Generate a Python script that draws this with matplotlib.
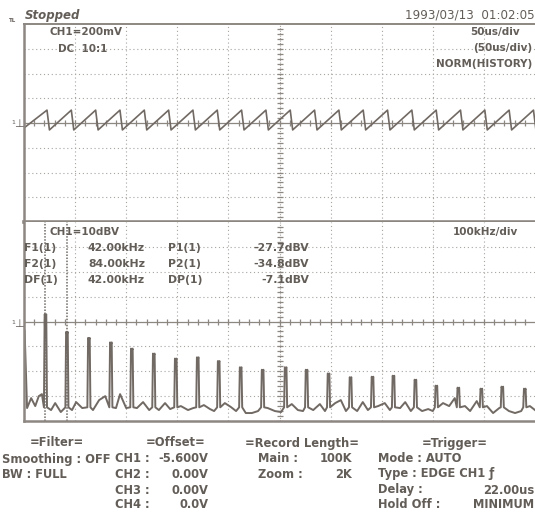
import numpy as np
import matplotlib.pyplot as plt

# --- upper trace: CH1 sawtooth (time in us, level in mV) ---
saw_drop_us = [22.5, 46.3, 70.1, 93.9, 117.7, 141.5, 165.3, 189.1, 212.9, 236.7, 260.5,
               284.3, 308.1, 331.9, 355.7, 379.5, 403.3, 427.1, 450.9, 474.7, 498.5]
saw_start_mv = -40
saw_high_mv = 104
saw_low_mv = -56
saw_fall_us = 2.4

# --- lower trace: FFT spectrum (kHz, dBV) ---
dc_dbv = -33.6
harm_khz = [42, 84, 127, 170, 211, 254, 297, 340, 381, 424, 467, 512,
            553, 596, 639, 682, 723, 766, 807, 850, 895, 936, 980]
harm_dbv = [-27.7, -34.8, -37.2, -39.0, -41.5, -43.5, -45.5, -45.0, -46.5, -49.0, -50.0, -49.0,
            -50.0, -51.5, -53.0, -52.8, -52.4, -54.0, -56.4, -57.2, -57.6, -56.8, -57.6]
floor_khz = [6, 14, 22, 29, 35, 53, 61, 72, 94, 102, 114, 135, 147, 159, 180, 188, 200,
             221, 233, 245, 264, 276, 286, 307, 321, 331, 352, 364, 372, 393, 405, 415,
             434, 446, 458, 477, 491, 503, 524, 536, 546, 566, 579, 589, 609, 620, 630,
             652, 663, 673, 693, 706, 716, 736, 746, 757, 779, 791, 800, 820, 832, 843,
             863, 873, 886, 906, 918, 930, 949, 961, 973, 990, 1000]
floor_dbv = [-64.8, -60.8, -64.0, -60.0, -59.2, -65.6, -62.8, -66.4, -65.6, -62.4, -64.8,
             -65.6, -61.6, -60.0, -64.8, -59.2, -64.8, -64.8, -62.4, -65.6, -65.6, -62.8,
             -65.2, -64.0, -65.6, -64.8, -63.6, -65.2, -66.0, -62.8, -64.4, -66.0, -66.8,
             -66.8, -66.0, -64.8, -66.0, -66.4, -63.2, -65.6, -66.0, -65.6, -63.2, -66.0,
             -62.8, -61.6, -66.0, -66.0, -62.4, -65.6, -64.0, -62.8, -65.6, -64.8, -62.4,
             -66.0, -66.0, -65.2, -66.0, -62.8, -64.0, -60.8, -64.0, -66.0, -62.0, -64.0,
             -66.8, -64.8, -66.0, -66.8, -66.0, -64.0, -65.6]
cursor_khz = [42, 84]

# --- screen texts ---
meas_names = ["F1(1)", "F2(1)", "DF(1)"]
meas_freqs = ["42.00kHz", "84.00kHz", "42.00kHz"]
meas_pnames = ["P1(1)", "P2(1)", "DP(1)"]
meas_levels = ["-27.7dBV", "-34.8dBV", "-7.1dBV"]

W, H = 535, 515
ink = '#635d58'
trace = '#716963'
gridc = '#a8a4a0'


def fx(x):
    return x / W


def fy(y):
    return 1 - y / H


def txt(x, y, s, size=7.5, ha='left', weight='bold', **kw):
    fig.text(fx(x), fy(y), s, size=size, ha=ha, va='center', color=ink,
             fontweight=weight, family='DejaVu Sans', **kw)


def screen(ax, xmax, ymin, ymax, xdiv, ydiv):
    ax.set_xlim(0, xmax)
    ax.set_ylim(ymin, ymax)
    ax.set_xticks([])
    ax.set_yticks([])
    xc = xmax / 2
    yc = (ymin + ymax) / 2
    for gx in np.arange(xdiv, xmax, xdiv):
        if abs(gx - xc) > 1e-6:
            ax.axvline(gx, color=gridc, lw=0.8, ls=(0, (1, 2.5)))
    for gy in np.arange(ymin + ydiv, ymax, ydiv):
        if abs(gy - yc) > 1e-6:
            ax.axhline(gy, color=gridc, lw=0.8, ls=(0, (1, 2.5)))
    # centre axes with small ticks
    ax.axvline(xc, color=gridc, lw=0.8, ls=(0, (1, 1.2)))
    ax.axhline(yc, color='#8d8782', lw=0.9)
    ax.plot(np.arange(0, xmax, xdiv / 5), np.full(int(round(xmax / (xdiv / 5))), yc),
            ls='none', marker='|', ms=4, mew=0.9, color='#8d8782')
    ax.plot(np.full(int(round((ymax - ymin) / (ydiv / 5))), xc),
            np.arange(ymin, ymax, ydiv / 5),
            ls='none', marker='_', ms=4, mew=0.9, color='#8d8782')
    for s in ax.spines.values():
        s.set_color('#8d8782')
    ax.spines['right'].set_visible(False)
    ax.spines['left'].set_linewidth(1.8)


fig = plt.figure(figsize=(W / 100, H / 100), dpi=100)
fig.patch.set_facecolor('white')

ax1 = fig.add_axes([fx(24), fy(222), fx(535) - fx(24), (222 - 24) / H])
ax2 = fig.add_axes([fx(24), fy(421), fx(535) - fx(24), (421 - 222) / H])

screen(ax1, 500, -800, 800, 50, 200)
screen(ax2, 1000, -70, 10, 100, 10)
ax1.spines['top'].set_linewidth(1.4)
ax1.spines['bottom'].set_linewidth(2.6)
ax2.spines['top'].set_visible(False)
ax2.spines['bottom'].set_linewidth(1.8)

# sawtooth
st = [0]
sv = [saw_start_mv]
for td in saw_drop_us:
    st += [td, td + saw_fall_us]
    sv += [saw_high_mv, saw_low_mv]
ax1.plot(st, sv, color=trace, lw=1.2)

# spectrum: each harmonic drawn as a narrow flat-topped spike on the noise floor
pts = [(0, dc_dbv), (1.2, dc_dbv)]
pts += list(zip(floor_khz, floor_dbv))
for f, p in zip(harm_khz, harm_dbv):
    pts += [(f - 3.0, -64.5), (f - 1.6, p + 0.6), (f - 0.3, p),
            (f + 0.3, p), (f + 1.6, p + 0.6), (f + 3.0, -64.5)]
pts.sort()
ax2.plot([p[0] for p in pts], [p[1] for p in pts], color=trace, lw=1.4)
for c in cursor_khz:
    ax2.axvline(c, color='#6f6964', lw=1.1, ls=(0, (1, 1)))

# header
fig.text(fx(25), fy(16), 'Stopped', size=8.5, style='italic', fontweight='bold',
         color=ink, va='center', family='DejaVu Sans')
fig.text(fx(9), fy(20), 'TL', size=4, color=ink, va='center', fontweight='bold')
txt(535, 15, '1993/03/13  01:02:05', size=8.6, ha='right', weight='normal')

txt(50, 32, 'CH1=200mV')
txt(58, 49, 'DC  10:1')
txt(520, 32, '50us/div', ha='right')
txt(532, 48, '(50us/div)', ha='right')
txt(532, 64, 'NORM(HISTORY)', ha='right')

txt(50, 232, 'CH1=10dBV')
txt(518, 232, '100kHz/div', ha='right')
for i, yy in enumerate([248, 264, 280]):
    txt(24, yy, meas_names[i], size=7.8)
    txt(88, yy, meas_freqs[i], size=7.8)
    txt(168, yy, meas_pnames[i], size=7.8)
    txt(309, yy, meas_levels[i], size=7.8, ha='right')

# ground markers
for yy in [123, 323]:
    fig.text(fx(13), fy(yy), '1', size=4.5, color=ink, va='center', ha='center')
    fig.text(fx(19), fy(yy + 1), '\u22a5', size=8, color=ink, va='center', ha='center')

# bottom settings block
b = 8.3
txt(57, 443, '=Filter=', size=b, ha='center')
txt(2, 459, 'Smoothing : OFF', size=b)
txt(2, 474, 'BW : FULL', size=b)

txt(176, 443, '=Offset=', size=b, ha='center')
for yy, ch, v in zip([459, 474, 490, 505], ['CH1 :', 'CH2 :', 'CH3 :', 'CH4 :'],
                     ['-5.600V', '0.00V', '0.00V', '0.0V']):
    txt(115, yy, ch, size=b)
    txt(208, yy, v, size=b, ha='right')

txt(302, 443, '=Record Length=', size=b, ha='center')
txt(258, 459, 'Main :', size=b)
txt(352, 459, '100K', size=b, ha='right')
txt(258, 474, 'Zoom :', size=b)
txt(352, 474, '2K', size=b, ha='right')

txt(455, 443, '=Trigger=', size=b, ha='center')
txt(378, 459, 'Mode : AUTO', size=b)
txt(378, 474, 'Type : EDGE CH1 \u0192', size=b)
txt(378, 490, 'Delay :', size=b)
txt(534, 490, '22.00us', size=b, ha='right')
txt(378, 505, 'Hold Off :', size=b)
txt(534, 505, 'MINIMUM', size=b, ha='right')

fig.savefig('out.png', dpi=100)
